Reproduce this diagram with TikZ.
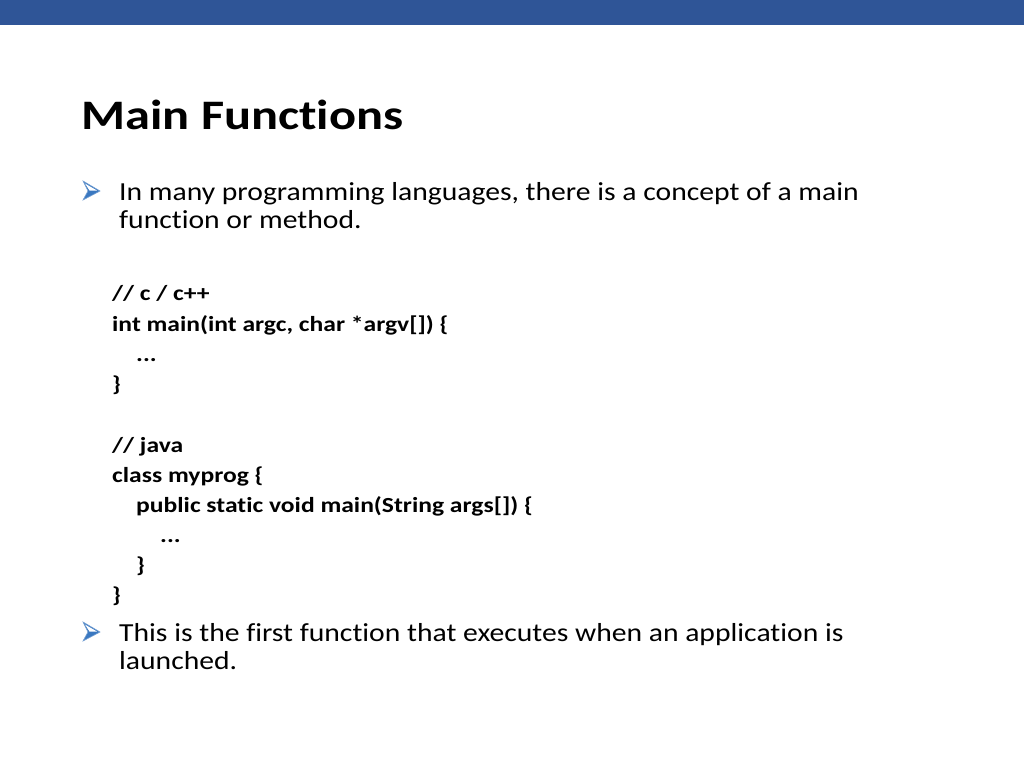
\documentclass[tikz,border=0pt]{standalone}
\usepackage{fontspec}
\setmainfont{Carlito}[Ligatures=NoCommon]
\newfontfamily\bodyf{Carlito}[Ligatures=NoCommon,FakeStretch=1.14]
\newfontfamily\codef{Carlito}[Ligatures=NoCommon,FakeStretch=1.19]
\newfontfamily\titlef{Carlito}[Ligatures=NoCommon,FakeStretch=1.2]
\definecolor{barblue}{HTML}{2F5597}
\definecolor{bulblue}{HTML}{3A78C0}
\begin{document}
\begin{tikzpicture}[x=1pt,y=-1pt,
  txt/.style={anchor=base west,inner sep=0pt,font=\fontsize{26}{30}\bodyf},
  code/.style={anchor=base west,inner sep=0pt,font=\fontsize{21.5}{26}\codef\bfseries},
  bul/.style={fill=bulblue,draw=bulblue!70,line width=0.6pt,line join=miter}]
\useasboundingbox (0,0) rectangle (1024,768);
\fill[white] (0,0) rectangle (1024,768);
\fill[barblue] (0,0) rectangle (1024,25);
\node[anchor=base west,inner sep=0pt,font=\fontsize{42}{48}\titlef\bfseries] (title) at (81,129) {Main Functions};
\path[bul] (83,181) -- (100,191) -- (83,200) -- (88,191) -- cycle;
\fill[white] (85,183.5) -- (97,190.5) -- (89.5,190.5) -- cycle;
\node[txt] (t1) at (119,200) {In many programming languages, there is a concept of a main};
\node[txt] (t2) at (119,228) {function or method.};
\node[code] (c1) at (112,300) {// c / c++};
\node[code] (c2) at (112,331) {int main(int argc, char *argv[]) \{};
\node[code] (c3) at (136,361) {...};
\node[code] (c4) at (112,391) {\}};
\node[code] (c5) at (112,452) {// java};
\node[code] (c6) at (112,482) {class myprog \{};
\node[code] (c7) at (136,512) {public static void main(String args[]) \{};
\node[code] (c8) at (160,542) {...};
\node[code] (c9) at (136,572) {\}};
\node[code] (c10) at (112,602) {\}};
\path[bul] (83,622) -- (100,632) -- (83,641) -- (88,632) -- cycle;
\fill[white] (85,624.5) -- (97,631.5) -- (89.5,631.5) -- cycle;
\node[txt] (t3) at (119,641) {This is the first function that executes when an application is};
\node[txt] (t4) at (119,669) {launched.};
\end{tikzpicture}
\end{document}
